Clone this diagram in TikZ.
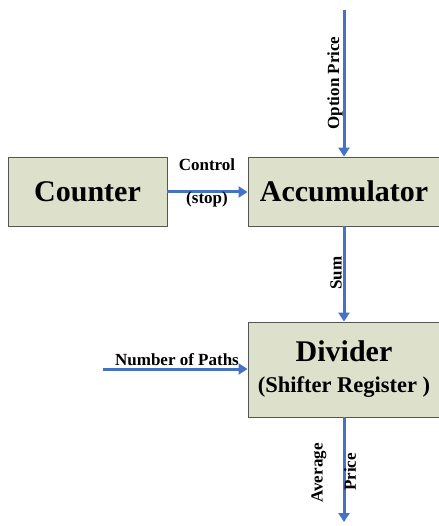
\documentclass[tikz,border=0pt]{standalone}
\usepackage{fontspec}
\setmainfont{Liberation Serif}
\usetikzlibrary{arrows.meta}
\definecolor{boxfill}{HTML}{DDE1CC}
\definecolor{boxline}{HTML}{555555}
\definecolor{arrowblue}{HTML}{4472C4}
\tikzset{
  block/.style={draw=boxline, line width=0.9pt, fill=boxfill, rectangle, inner sep=0pt, align=center, font=\bfseries\fontsize{30}{32}\selectfont},
  flow/.style={draw=arrowblue, line width=3pt, -{Triangle[width=11pt,length=9pt]}},
  lbl/.style={inner sep=0pt, font=\bfseries\fontsize{17}{18}\selectfont}
}
\begin{document}
\begin{tikzpicture}[x=1pt,y=-1pt]
\useasboundingbox (0,0) rectangle (438,526);
\node[block, minimum width=159pt, minimum height=69pt] (counter) at (87.5,191.5) {Counter};
\node[block, minimum width=192pt, minimum height=69pt] (acc) at (344,191.5) {Accumulator};
\node[block, minimum width=192pt, minimum height=95pt] (div) at (344,369.5) {Divider\\[-1pt]{\fontsize{22.5}{24}\selectfont(Shifter Register )}};
\coordinate (optop) at (344,10);
\coordinate (avbot) at (344,522);
\coordinate (npstart) at (103,369);
\draw[flow] (optop) -- (acc.north);
\draw[flow] (counter.east |- 0,192) -- (acc.west |- 0,192);
\draw[flow] (acc.south) -- (div.north);
\draw[flow] (npstart) -- (div.west |- npstart);
\draw[flow] (div.south) -- (avbot);
\node[lbl, rotate=90] (optlbl) at (335,83) {Option Price};
\node[lbl] (ctrl) at (207,165) {Control};
\node[lbl] (stop) at (207,199) {(stop)};
\node[lbl, rotate=90] (sumlbl) at (336,273) {Sum};
\node[lbl] (nplbl) at (177,360) {Number of Paths};
\node[lbl, rotate=90] (avglbl) at (319,473) {Average};
\node[lbl, rotate=90] (pricelbl) at (350,472) {Price};
\end{tikzpicture}
\end{document}
